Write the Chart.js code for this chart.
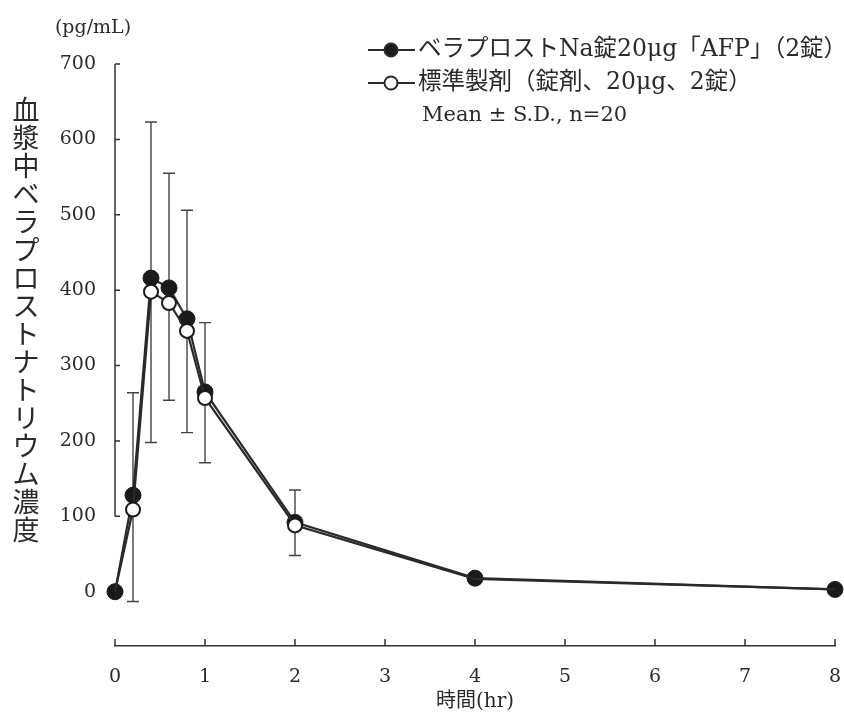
<!DOCTYPE html>
<html>
<head>
<meta charset="utf-8">
<script src="https://cdn.jsdelivr.net/npm/chart.js@4.4.0/dist/chart.umd.min.js"></script>
<style>
  body { margin: 0; background: #fff; }
  #wrap { width: 844px; height: 715px; }
</style>
</head>
<body>
<div id="wrap"><canvas id="canvas" width="844" height="715"></canvas></div>
<script>
// sampling times (hr) and plasma levels (pg/mL)
const times = [0, 0.2, 0.4, 0.6, 0.8, 1, 2, 4, 8];
const afpMean = [0, 128, 416, 403, 362, 265, 92, 18, 3];
const afpSD = [0, 136, 207, 152, 144, 92, 43, 6, 2];
const refMean = [0, 109, 398, 383, 346, 257, 88, 17, 3];
const refSD = [0, 122, 200, 129, 135, 86, 40, 6, 2];

const xTicks = [0, 1, 2, 3, 4, 5, 6, 7, 8];
const yTicks = [0, 100, 200, 300, 400, 500, 600, 700];
const yAxisFrom = 100;

const seriesNames = ['ベラプロストNa錠20μg「AFP」（2錠）', '標準製剤（錠剤、20μg、2錠）'];
const noteText = 'Mean ± S.D., n=20';
const yTitle = '血漿中ベラプロストナトリウム濃度';
const xTitle = '時間(hr)';
const unitText = '(pg/mL)';

const ink = '#2a2a2a';
const serif = "'DejaVu Serif', 'Noto Sans CJK JP', serif";

const decor = {
  id: 'decor',
  beforeDatasetsDraw(chart) {
    const { ctx, scales: { x, y } } = chart;
    ctx.save();
    ctx.strokeStyle = '#444';
    ctx.lineWidth = 1.4;
    times.forEach((t, i) => {
      const px = x.getPixelForValue(t);
      const top = y.getPixelForValue(afpMean[i] + afpSD[i]);
      const bot = y.getPixelForValue(refMean[i] - refSD[i]);
      ctx.beginPath();
      ctx.moveTo(px, top); ctx.lineTo(px, bot);
      ctx.moveTo(px - 6, top); ctx.lineTo(px + 6, top);
      ctx.moveTo(px - 6, bot); ctx.lineTo(px + 6, bot);
      ctx.stroke();
    });

    // y axis only runs from 100 up, ticks point inwards
    ctx.strokeStyle = '#333';
    ctx.lineWidth = 1.5;
    const ax = x.getPixelForValue(0);
    ctx.beginPath();
    ctx.moveTo(ax, y.getPixelForValue(yAxisFrom));
    ctx.lineTo(ax, y.getPixelForValue(yTicks[yTicks.length - 1]));
    yTicks.filter(v => v >= yAxisFrom).forEach(v => {
      const py = y.getPixelForValue(v);
      ctx.moveTo(ax, py); ctx.lineTo(ax + 5, py);
    });
    xTicks.forEach(v => {
      const px = x.getPixelForValue(v);
      ctx.moveTo(px, x.top); ctx.lineTo(px, x.top - 7);
    });
    ctx.stroke();
    ctx.restore();
  },
  afterDraw(chart) {
    const { ctx } = chart;
    ctx.save();
    ctx.fillStyle = ink;

    // unit
    ctx.font = '19px ' + serif;
    ctx.textAlign = 'center';
    ctx.textBaseline = 'middle';
    ctx.fillText(unitText, 93, 28);

    // vertical y title, one character per row
    ctx.font = '27px ' + serif;
    [...yTitle].forEach((ch, i) => ctx.fillText(ch, 26, 113 + i * 28));

    // legend
    const rows = [50, 83];
    chart.data.datasets.forEach((ds, i) => {
      const cy = rows[i];
      ctx.strokeStyle = ink;
      ctx.lineWidth = 2;
      ctx.beginPath();
      ctx.moveTo(368, cy); ctx.lineTo(415, cy);
      ctx.stroke();
      ctx.beginPath();
      ctx.arc(391, cy, 6.5, 0, Math.PI * 2);
      ctx.fillStyle = ds.pointBackgroundColor;
      ctx.fill();
      ctx.stroke();
      ctx.fillStyle = ink;
      ctx.font = '23.5px ' + serif;
      ctx.textAlign = 'left';
      ctx.fillText(ds.label, 418, cy);
    });
    ctx.font = '21px ' + serif;
    ctx.fillText(noteText, 422, 116);
    ctx.restore();
  }
};

new Chart(document.getElementById('canvas'), {
  type: 'line',
  data: {
    datasets: [
      {
        label: seriesNames[0],
        data: times.map((t, i) => ({ x: t, y: afpMean[i] })),
        borderColor: ink,
        borderWidth: 2.2,
        pointRadius: 8,
        pointBackgroundColor: '#1a1a1a',
        pointBorderColor: '#1a1a1a',
        pointBorderWidth: 1,
        tension: 0,
        order: 2,
        clip: false
      },
      {
        label: seriesNames[1],
        data: times.map((t, i) => ({ x: t, y: refMean[i] })),
        borderColor: ink,
        borderWidth: 2.2,
        // markers that sit right under the filled ones are not visible in the figure
        pointRadius: c => Math.abs(refMean[c.dataIndex] - afpMean[c.dataIndex]) < 2 ? 0 : 7,
        pointBackgroundColor: '#ffffff',
        pointBorderColor: '#1a1a1a',
        pointBorderWidth: 2,
        tension: 0,
        order: 1,
        clip: false
      }
    ]
  },
  options: {
    responsive: false,
    devicePixelRatio: 1,
    animation: false,
    layout: { padding: { top: 64, right: 9, left: 0, bottom: 0 } },
    plugins: { legend: { display: false }, tooltip: { enabled: false } },
    scales: {
      x: {
        type: 'linear',
        min: 0,
        max: 8,
        afterBuildTicks: s => { s.ticks = xTicks.map(v => ({ value: v })); },
        afterFit: s => { s.height = 69; s.paddingLeft = 0; s.paddingRight = 0; },
        grid: { display: false, drawTicks: false },
        border: { display: true, color: '#333', width: 1.5 },
        ticks: { color: ink, font: { family: serif, size: 19 }, padding: 20, maxRotation: 0 },
        title: { display: true, text: xTitle, color: ink, font: { family: serif, size: 20 }, padding: { top: 0, bottom: 1 } }
      },
      y: {
        type: 'linear',
        min: -72,
        max: 700,
        afterBuildTicks: s => { s.ticks = yTicks.map(v => ({ value: v })); },
        afterFit: s => { s.width = 115; s.paddingTop = 0; s.paddingBottom = 0; },
        grid: { display: false, drawTicks: false },
        border: { display: false },
        ticks: { color: ink, font: { family: serif, size: 19 }, padding: 19 }
      }
    }
  },
  plugins: [decor]
});
</script>
</body>
</html>
